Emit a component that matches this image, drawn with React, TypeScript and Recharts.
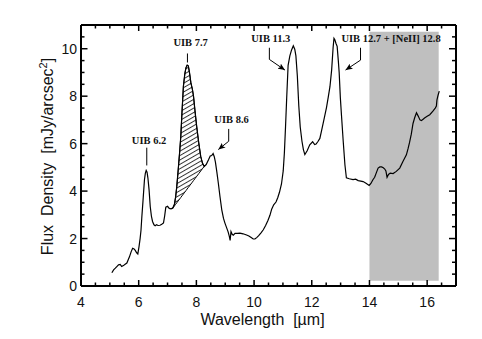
import React from 'react';
import {
  ComposedChart,
  Line,
  Area,
  XAxis,
  YAxis,
  ReferenceArea,
  ReferenceLine,
  ReferenceDot,
} from 'recharts';

// ---- Data ----
const wavelength = [
  5.07, 5.13, 5.19, 5.25, 5.3, 5.36, 5.41, 5.47, 5.53, 5.59, 5.64, 5.68, 5.74, 5.79, 5.84, 5.88, 5.93, 5.97,
  6.01, 6.05, 6.08, 6.11, 6.15, 6.2, 6.23, 6.26, 6.29, 6.32, 6.36, 6.4, 6.44, 6.48, 6.53, 6.57, 6.62, 6.67,
  6.74, 6.8, 6.86, 6.9, 6.94, 7.0, 7.06, 7.12, 7.18, 7.24, 7.28, 7.32, 7.37, 7.42, 7.46, 7.5, 7.55, 7.6,
  7.64, 7.68, 7.72, 7.76, 7.81, 7.86, 7.9, 7.95, 8.01, 8.08, 8.15, 8.21, 8.27, 8.34, 8.42, 8.48, 8.53, 8.58,
  8.62, 8.66, 8.71, 8.76, 8.82, 8.88, 8.94, 8.99, 9.05, 9.1, 9.14, 9.17, 9.2, 9.24, 9.28, 9.34, 9.42, 9.51,
  9.62, 9.74, 9.82, 9.9, 9.97, 10.03, 10.09, 10.16, 10.24, 10.32, 10.4, 10.48, 10.55, 10.61, 10.68, 10.76,
  10.82, 10.88, 10.95, 11.01, 11.05, 11.09, 11.13, 11.18, 11.24, 11.3, 11.36, 11.41, 11.45, 11.5, 11.55,
  11.6, 11.66, 11.71, 11.76, 11.84, 11.93, 12.03, 12.1, 12.15, 12.22, 12.28, 12.34, 12.42, 12.51, 12.57,
  12.63, 12.69, 12.74, 12.77, 12.8, 12.84, 12.88, 12.92, 12.95, 12.99, 13.03, 13.09, 13.15, 13.2, 13.3,
  13.43, 13.52, 13.61, 13.7, 13.78, 13.88, 13.99, 14.05, 14.12, 14.18, 14.24, 14.3, 14.36, 14.42, 14.48,
  14.53, 14.57, 14.61, 14.66, 14.72, 14.82, 14.93, 15.05, 15.16, 15.28, 15.34, 15.39, 15.45, 15.51, 15.57,
  15.63, 15.69, 15.75, 15.8, 15.86, 15.91, 16.0, 16.09, 16.2, 16.28, 16.32, 16.34, 16.38, 16.42,
];

const flux = [
  0.56, 0.68, 0.75, 0.83, 0.89, 0.91, 0.82, 0.86, 0.92, 0.97, 1.12, 1.23, 1.45, 1.59, 1.56, 1.5, 1.4, 1.35,
  1.65, 2.01, 2.35, 2.93, 3.6, 4.48, 4.75, 4.87, 4.8, 4.55, 4.05, 3.35, 2.95, 2.72, 2.58, 2.54, 2.58, 2.55,
  2.56, 2.6, 2.66, 2.95, 3.32, 3.36, 3.27, 3.25, 3.28, 3.45, 3.75, 4.19, 4.9, 5.65, 6.31, 7.3, 8.42, 8.95,
  9.2, 9.31, 9.28, 9.0, 8.56, 8.3, 8.0, 7.4, 6.73, 6.05, 5.46, 5.18, 5.04, 5.12, 5.32, 5.48, 5.5, 5.58,
  5.45, 5.22, 4.8, 4.34, 3.75, 3.21, 2.85, 2.65, 2.45, 2.28, 2.1, 1.92, 2.29, 2.18, 2.14, 2.22, 2.22, 2.23,
  2.2, 2.15, 2.11, 2.04, 1.98, 1.98, 2.04, 2.12, 2.24, 2.37, 2.55, 2.76, 2.98, 3.24, 3.42, 3.54,
  3.72, 3.95, 4.3, 4.85, 5.6, 6.7, 7.9, 9.3, 9.7, 9.95, 10.12, 9.98, 9.7, 8.85, 7.6,
  6.7, 6.1, 5.75, 5.54, 5.7, 5.95, 6.08, 5.96, 5.98, 6.1, 6.22, 6.55, 7.0, 7.52, 7.95,
  8.4, 9.12, 10.05, 10.44, 10.38, 10.22, 10.1, 9.5, 9.0, 7.95, 7.2, 6.1, 5.1, 4.56, 4.52,
  4.48, 4.5, 4.44, 4.42, 4.4, 4.33, 4.24, 4.32, 4.48, 4.58, 4.78, 4.97, 5.02, 5.02, 4.98,
  4.93, 4.85, 4.58, 4.7, 4.76, 4.74, 4.83, 4.97, 5.25, 5.53, 5.8, 6.05, 6.4, 6.85, 7.1,
  7.3, 7.16, 7.0, 6.97, 7.03, 7.08, 7.15, 7.22, 7.37, 7.5, 7.58, 7.85, 8.05, 8.21,
];

// hatched UIB 7.7 feature: bounded by the spectrum and a straight chord
const hatchFrom = 7.18;
const hatchTo = 8.27;

// shaded region (wavelength range and flux extent)
const shadeX = [14, 16.4];
const shadeY = [0.22, 10.72];

const xDomain = [4, 17];
const yDomain = [0, 11];
const xTicks = [4, 4.5, 5, 5.5, 6, 6.5, 7, 7.5, 8, 8.5, 9, 9.5, 10, 10.5, 11, 11.5, 12, 12.5, 13, 13.5, 14, 14.5, 15, 15.5, 16, 16.5, 17];
const xMajor = [4, 6, 8, 10, 12, 14, 16];
const yTicks = [0, 0.5, 1, 1.5, 2, 2.5, 3, 3.5, 4, 4.5, 5, 5.5, 6, 6.5, 7, 7.5, 8, 8.5, 9, 9.5, 10, 10.5, 11];
const yMajor = [0, 2, 4, 6, 8, 10];

const labels = [
  { text: 'UIB 6.2', x: 6.36, y: 6.14 },
  { text: 'UIB 7.7', x: 7.8, y: 10.25 },
  { text: 'UIB 8.6', x: 9.22, y: 7.01 },
  { text: 'UIB 11.3', x: 10.58, y: 10.42 },
  { text: 'UIB 12.7 + [NeII] 12.8', x: 14.75, y: 10.42 },
];

const leaders = [
  [{ x: 6.28, y: 5.83 }, { x: 6.28, y: 5.08 }],
  [{ x: 7.69, y: 9.8 }, { x: 7.69, y: 9.42 }],
  [{ x: 9.12, y: 6.62 }, { x: 9.12, y: 6.1 }],
  [{ x: 10.53, y: 10.04 }, { x: 10.53, y: 9.55 }],
  [{ x: 13.69, y: 10.04 }, { x: 13.69, y: 9.52 }],
];

const arrows = [
  [{ x: 9.12, y: 6.1 }, { x: 8.76, y: 5.75 }],
  [{ x: 10.53, y: 9.55 }, { x: 11.07, y: 9.1 }],
  [{ x: 13.69, y: 9.52 }, { x: 13.17, y: 9.1 }],
];

// ---- table built for the library ----
const i0 = wavelength.indexOf(hatchFrom);
const i1 = wavelength.indexOf(hatchTo);
const data = wavelength.map((w, i) => {
  const row: any = { x: w, y: flux[i] };
  if (i >= i0 && i <= i1) {
    const t = (w - hatchFrom) / (hatchTo - hatchFrom);
    const base = flux[i0] + (flux[i1] - flux[i0]) * t;
    row.hatch = [base, flux[i]];
  }
  return row;
});

const SANS = '"Liberation Sans", Arial, Helvetica, sans-serif';
const SERIF = '"Liberation Serif", "Times New Roman", Times, serif';
const INK = '#000';
const TICK_W = 1.5;
const axisLineStyle = { stroke: INK, strokeWidth: 2 };

const BottomTick = (props: any) => {
  const { x, y, payload } = props;
  const major = xMajor.includes(payload.value);
  const len = major ? 6 : 3.5;
  return (
    <g>
      <path d={`M${x},${y}V${y - len}`} stroke={INK} strokeWidth={TICK_W} fill="none" />
      {major && (
        <text x={x} y={y + 20.7} textAnchor="middle" fontSize={14} fontFamily={SANS} fill="#111">
          {payload.value}
        </text>
      )}
    </g>
  );
};

const TopTick = (props: any) => {
  const { x, y, payload } = props;
  const len = xMajor.includes(payload.value) ? 6 : 3.5;
  return <path d={`M${x},${y}V${y + len}`} stroke={INK} strokeWidth={TICK_W} fill="none" />;
};

const LeftTick = (props: any) => {
  const { x, y, payload } = props;
  const major = yMajor.includes(payload.value);
  const len = major ? 6.5 : 3.5;
  return (
    <g>
      <path d={`M${x},${y}H${x + len}`} stroke={INK} strokeWidth={TICK_W} fill="none" />
      {major && (
        <text x={x - 4} y={y} dy="0.36em" textAnchor="end" fontSize={14} fontFamily={SANS} fill="#111">
          {payload.value}
        </text>
      )}
    </g>
  );
};

const RightTick = (props: any) => {
  const { x, y, payload } = props;
  const len = yMajor.includes(payload.value) ? 7 : 4;
  return <path d={`M${x},${y}H${x - len}`} stroke={INK} strokeWidth={TICK_W} fill="none" />;
};

const XLabel = (props: any) => {
  const vb = props.viewBox;
  return (
    <text
      x={vb.x + vb.width / 2 - 6}
      y={vb.y + 39}
      textAnchor="middle"
      fontSize={16}
      fontFamily={SANS}
      fill="#111"
      style={{ whiteSpace: 'pre' }}
    >
      {'Wavelength  [\u00b5m]'}
    </text>
  );
};

const YLabel = (props: any) => {
  const vb = props.viewBox;
  const cx = vb.x + 53;
  const cy = vb.y + vb.height / 2 + 1;
  return (
    <text
      x={cx}
      y={cy}
      transform={`rotate(-90 ${cx} ${cy})`}
      textAnchor="middle"
      fontSize={16}
      fontFamily={SANS}
      fill="#111"
      style={{ whiteSpace: 'pre' }}
    >
      {'Flux  Density  [mJy/arcsec'}
      <tspan dy={-6} fontSize={11}>2</tspan>
      <tspan dy={6}>]</tspan>
    </text>
  );
};

const segLine = (withArrow: boolean) => (p: any) => (
  <line
    x1={p.x1}
    y1={p.y1}
    x2={p.x2}
    y2={p.y2}
    stroke={INK}
    strokeWidth={1}
    markerEnd={withArrow ? 'url(#arrowHead)' : undefined}
  />
);

const labelShape = (text: string) => (p: any) => (
  <text
    x={p.cx}
    y={p.cy}
    dy="0.35em"
    textAnchor="middle"
    fontSize={10.5}
    fontWeight="bold"
    fontFamily={SERIF}
    fill="#111"
  >
    {text}
  </text>
);

export default function App() {
  return (
    <div style={{ position: 'absolute', left: 0, top: 0, width: 482, height: 339, background: '#fff' }}>
      <ComposedChart width={482} height={339} data={data} margin={{ top: 24, right: 25, bottom: 0, left: 0 }}>
        <defs>
          <pattern
            id="hatchPat"
            patternUnits="userSpaceOnUse"
            width={10}
            height={3.8}
            patternTransform="rotate(-30)"
          >
            <line x1={0} y1={0.5} x2={10} y2={0.5} stroke={INK} strokeWidth={0.8} />
          </pattern>
          <marker
            id="arrowHead"
            markerUnits="userSpaceOnUse"
            markerWidth={7}
            markerHeight={6}
            refX={7}
            refY={3}
            orient="auto"
          >
            <path d="M0,0 L7,3 L0,6 L1.5,3 Z" fill={INK} />
          </marker>
        </defs>
        <XAxis
          dataKey="x"
          type="number"
          domain={xDomain}
          ticks={xTicks}
          interval={0}
          allowDataOverflow
          height={53}
          tickSize={0}
          tickMargin={0}
          tick={<BottomTick />}
          tickLine={false}
          axisLine={axisLineStyle}
          label={<XLabel />}
        />
        <XAxis
          xAxisId="top"
          orientation="top"
          dataKey="x"
          type="number"
          domain={xDomain}
          ticks={xTicks}
          interval={0}
          allowDataOverflow
          height={1}
          tickSize={0}
          tickMargin={0}
          tick={<TopTick />}
          tickLine={false}
          axisLine={axisLineStyle}
        />
        <YAxis
          type="number"
          domain={yDomain}
          ticks={yTicks}
          interval={0}
          allowDataOverflow
          width={81}
          tickSize={0}
          tickMargin={0}
          tick={<LeftTick />}
          tickLine={false}
          axisLine={axisLineStyle}
          label={<YLabel />}
        />
        <YAxis
          yAxisId="right"
          orientation="right"
          type="number"
          domain={yDomain}
          ticks={yTicks}
          interval={0}
          allowDataOverflow
          width={1}
          tickSize={0}
          tickMargin={0}
          tick={<RightTick />}
          tickLine={false}
          axisLine={axisLineStyle}
        />
        <ReferenceArea
          x1={shadeX[0]}
          x2={shadeX[1]}
          y1={shadeY[0]}
          y2={shadeY[1]}
          fill="#bfbfbf"
          fillOpacity={1}
          stroke="none"
        />
        <Area
          dataKey="hatch"
          type="linear"
          fill="url(#hatchPat)"
          fillOpacity={1}
          stroke={INK}
          strokeWidth={1}
          isAnimationActive={false}
          dot={false}
          activeDot={false}
          connectNulls={false}
        />
        <Line
          dataKey="y"
          type="linear"
          stroke={INK}
          strokeWidth={1.2}
          dot={false}
          activeDot={false}
          isAnimationActive={false}
        />
        {leaders.map((s, i) => (
          <ReferenceLine key={`ld${i}`} segment={s} shape={segLine(false)} />
        ))}
        {arrows.map((s, i) => (
          <ReferenceLine key={`ar${i}`} segment={s} shape={segLine(true)} />
        ))}
        {labels.map((l, i) => (
          <ReferenceDot key={`lb${i}`} x={l.x} y={l.y} r={0} shape={labelShape(l.text)} />
        ))}
      </ComposedChart>
    </div>
  );
}
